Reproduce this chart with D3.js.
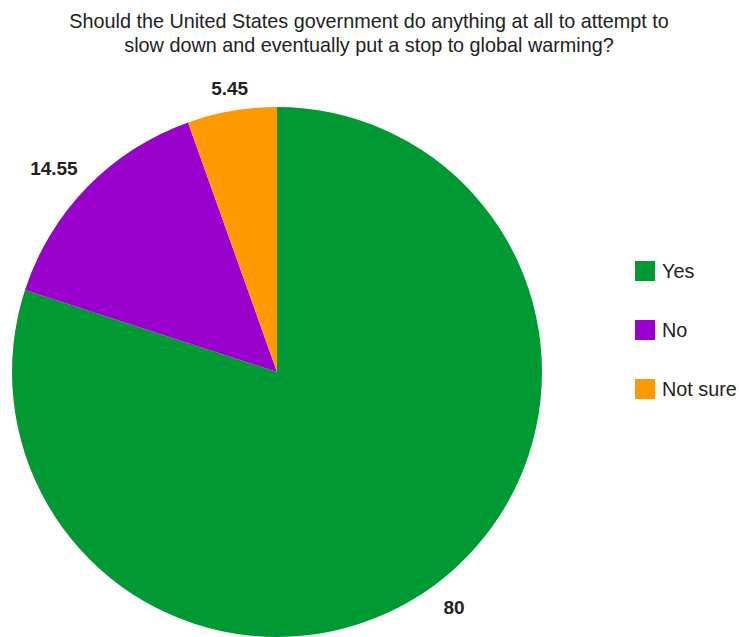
<!DOCTYPE html>
<html><head><meta charset="utf-8">
<script src="https://cdn.jsdelivr.net/npm/d3@7"></script>
<style>body{margin:0;background:#fff}svg{display:block}</style>
</head><body>
<svg id="chart" width="739" height="637"></svg>
<script>
const categories = ["Yes", "No", "Not sure"];
const values = [80, 14.55, 5.45];
const valueLabels = ["80", "14.55", "5.45"];
const colors = ["#009933", "#9900cc", "#ff9900"];
const titleLines = ["Should the United States government do anything at all to attempt to",
                    "slow down and eventually put a stop to global warming?"];

const svg = d3.select("#chart");
const font = "'Liberation Sans', Arial, sans-serif";
const cx = 277, cy = 372, R = 265;

svg.append("g").selectAll("text").data(titleLines).join("text")
  .attr("x", 369).attr("y", (d, i) => 28 + i * 24)
  .attr("text-anchor", "middle").attr("font-family", font).attr("font-size", 19.8)
  .attr("fill", "#222").text(d => d);

const pie = d3.pie().sort(null).value(d => d)(values);
const arc = d3.arc().innerRadius(0).outerRadius(R);
const g = svg.append("g").attr("transform", `translate(${cx},${cy})`);
g.selectAll("path").data(pie).join("path")
  .attr("d", arc).attr("fill", (d, i) => colors[i]);

const lblR = 278;
g.selectAll("text").data(pie).join("text")
  .each(function(d, i) {
    const a = (d.startAngle + d.endAngle) / 2;
    const s = Math.sin(a), c = Math.cos(a);
    const px = lblR * s, py = -lblR * c;
    const anchor = Math.abs(s) < 0.3 ? "middle" : (s < 0 ? "end" : "start");
    const dx = anchor === "start" ? 3 : 0;
    const ty = c > 0 ? py - 3 : py + 17;
    d3.select(this).attr("x", px + dx).attr("y", ty).attr("text-anchor", anchor);
  })
  .attr("font-family", font).attr("font-size", 19).attr("font-weight", "bold")
  .attr("fill", "#222").text((d, i) => valueLabels[i]);

const leg = svg.append("g").selectAll("g").data(categories).join("g")
  .attr("transform", (d, i) => `translate(635,${261 + i * 59})`);
leg.append("rect").attr("width", 20).attr("height", 20).attr("fill", (d, i) => colors[i]);
leg.append("text").attr("x", 27).attr("y", 17).attr("font-family", font).attr("font-size", 19.8)
  .attr("fill", "#222").text(d => d);
</script>
</body></html>
